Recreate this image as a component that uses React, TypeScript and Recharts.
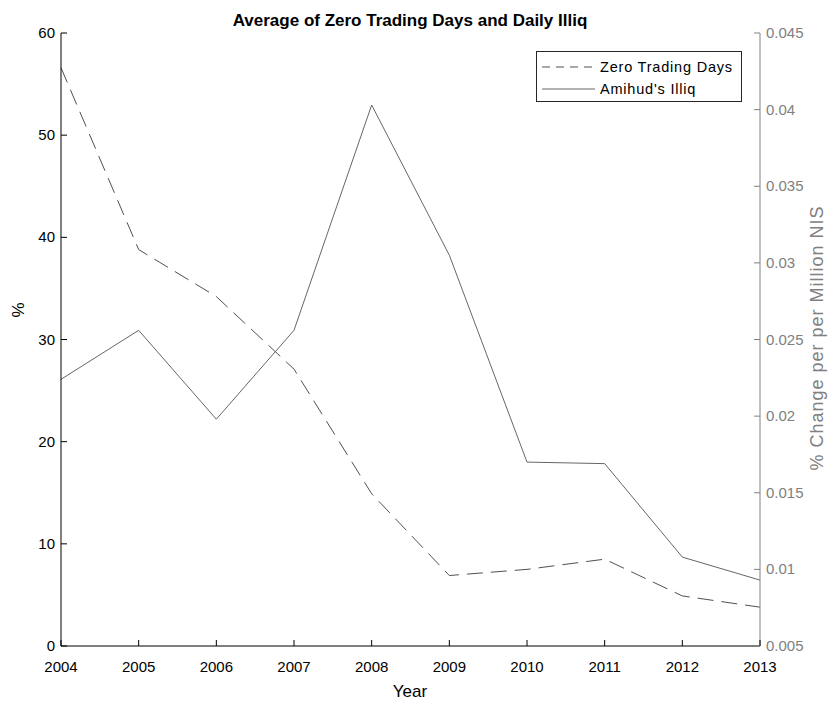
import React from "react";
import { LineChart, Line, XAxis, YAxis } from "recharts";

const YEARS = [2004, 2005, 2006, 2007, 2008, 2009, 2010, 2011, 2012, 2013];
const ZERO_DAYS = [56.6, 38.8, 34.2, 27.1, 14.9, 6.9, 7.5, 8.5, 4.9, 3.8];
const ILLIQ = [0.0224, 0.0256, 0.0198, 0.0256, 0.0403, 0.0305, 0.0170, 0.0169, 0.0108, 0.0093];

const LEFT_TICKS = [0, 10, 20, 30, 40, 50, 60];
const RIGHT_TICKS = [0.005, 0.01, 0.015, 0.02, 0.025, 0.03, 0.035, 0.04, 0.045];

const DATA = YEARS.map((year, i) => ({ year, zero: ZERO_DAYS[i], illiq: ILLIQ[i] }));

const FONT = '"Liberation Sans", Arial, sans-serif';
const GREY_AXIS = "#808080";
const DASH_COLOR = "#505050";
const SOLID_COLOR = "#666666";

function BottomTick(props: any) {
  const { x, y, payload } = props;
  return (
    <g>
      <line x1={x} x2={x} y1={y} y2={y - 6} stroke="#000" />
      <text x={x} y={y + 26} textAnchor="middle" fontSize={15} fill="#000" fontFamily={FONT}>
        {payload.value}
      </text>
    </g>
  );
}

function TopTick(props: any) {
  const { x, y } = props;
  return <line x1={x} x2={x} y1={y} y2={y + 6} stroke="#000" />;
}

function LeftTick(props: any) {
  const { x, y, payload } = props;
  return (
    <g>
      <line x1={x + 6} x2={x + 12} y1={y} y2={y} stroke="#000" />
      <text x={x} y={y + 5} textAnchor="end" fontSize={15} fill="#000" fontFamily={FONT}>
        {payload.value}
      </text>
    </g>
  );
}

function RightTick(props: any) {
  const { x, y, payload } = props;
  return (
    <g>
      <line x1={x - 6} x2={x - 12} y1={y} y2={y} stroke={GREY_AXIS} />
      <text x={x} y={y + 5} textAnchor="start" fontSize={15} fill={GREY_AXIS} fontFamily={FONT}>
        {String(payload.value)}
      </text>
    </g>
  );
}

function LegendBox() {
  return (
    <div
      style={{
        position: "absolute",
        left: 536,
        top: 51,
        width: 204,
        height: 49,
        border: "1px solid #262626",
        background: "#fff",
      }}
    >
      <svg width={204} height={49} style={{ display: "block" }}>
        <line x1={5} x2={58} y1={15} y2={15} stroke={DASH_COLOR} strokeDasharray="8 6" />
        <text x={63} y={20} fontSize={14.5} letterSpacing={0.8} fontFamily={FONT}>
          Zero Trading Days
        </text>
        <line x1={5} x2={58} y1={37} y2={37} stroke={SOLID_COLOR} />
        <text x={63} y={42} fontSize={14.5} letterSpacing={0.8} fontFamily={FONT}>
          Amihud's Illiq
        </text>
      </svg>
    </div>
  );
}

export default function App() {
  return (
    <div style={{ position: "absolute", left: 0, top: 0, width: 835, height: 705, background: "#fff" }}>
      <LineChart
        width={835}
        height={705}
        data={DATA}
        margin={{ top: 33, right: 0, left: 0, bottom: 0 }}
      >
        <text x={410} y={26} textAnchor="middle" fontSize={17} fontWeight="bold" fontFamily={FONT} fill="#000">
          Average of Zero Trading Days and Daily Illiq
        </text>
        <text x={410} y={697} textAnchor="middle" fontSize={17} fontFamily={FONT} fill="#000">
          Year
        </text>
        <text
          x={24}
          y={310}
          textAnchor="middle"
          fontSize={17}
          fontFamily={FONT}
          fill="#000"
          transform="rotate(-90 24 310)"
        >
          %
        </text>
        <text
          x={-338}
          y={823}
          textAnchor="middle"
          fontSize={18}
          letterSpacing={1}
          fontFamily={FONT}
          fill={GREY_AXIS}
          transform="rotate(-90)"
        >
          % Change per per Million NIS
        </text>
        <XAxis
          xAxisId="bottom"
          dataKey="year"
          type="number"
          domain={[2004, 2013]}
          ticks={YEARS}
          height={59}
          tickSize={0}
          tickMargin={0}
          axisLine={{ stroke: "#000" }}
          tickLine={false}
          tick={BottomTick}
          interval={0}
        />
        <XAxis
          xAxisId="top"
          orientation="top"
          dataKey="year"
          type="number"
          domain={[2004, 2013]}
          ticks={YEARS.slice(1, -1)}
          height={0}
          tickSize={0}
          tickMargin={0}
          axisLine={{ stroke: "#000" }}
          tickLine={false}
          tick={TopTick}
          interval={0}
        />
        <YAxis
          yAxisId="left"
          domain={[0, 60]}
          ticks={LEFT_TICKS}
          width={61}
          tickSize={0}
          tickMargin={6}
          axisLine={{ stroke: "#000" }}
          tickLine={false}
          tick={LeftTick}
          interval={0}
        />
        <YAxis
          yAxisId="right"
          orientation="right"
          domain={[0.005, 0.045]}
          ticks={RIGHT_TICKS}
          width={75}
          tickSize={0}
          tickMargin={6}
          axisLine={{ stroke: GREY_AXIS }}
          tickLine={false}
          tick={RightTick}
          interval={0}
        />
        <Line
          xAxisId="bottom"
          yAxisId="left"
          type="linear"
          dataKey="zero"
          stroke={DASH_COLOR}
          strokeWidth={1}
          strokeDasharray="16 8"
          dot={false}
          isAnimationActive={false}
        />
        <Line
          xAxisId="bottom"
          yAxisId="right"
          type="linear"
          dataKey="illiq"
          stroke={SOLID_COLOR}
          strokeWidth={1}
          dot={false}
          isAnimationActive={false}
        />
      </LineChart>
      <LegendBox />
    </div>
  );
}
